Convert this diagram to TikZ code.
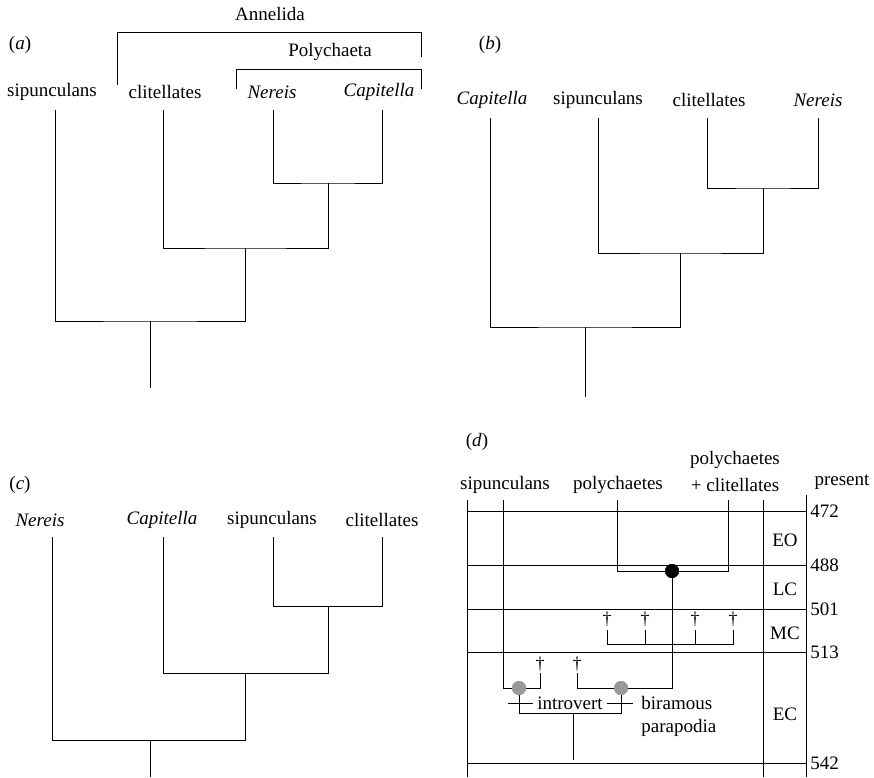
\documentclass[tikz,border=0pt]{standalone}
\usepackage{fontspec}
\setmainfont{Liberation Serif}
\begin{document}
\begin{tikzpicture}[x=1pt,y=-1pt,line width=0.9pt,
  lbl/.style={inner sep=0pt,font=\fontsize{19}{22}\selectfont},
  dag/.style={inner sep=0pt,font=\fontsize{18}{20}\selectfont},
  tick/.style={inner sep=0pt,anchor=west,font=\fontsize{19}{22}\selectfont},
  graydot/.style={circle,fill=black!40,inner sep=0pt,minimum size=14pt},
  blackdot/.style={circle,fill=black,inner sep=0pt,minimum size=14pt}]
\useasboundingbox (0,0) rectangle (874,777);

% ---------------- (a)
\node[lbl] (alab) at (20,45) {(\textit{a})};
\node[lbl] (annel) at (270,14) {Annelida};
\node[lbl] (polyc) at (330,52) {Polychaeta};
\node[lbl] (a1) at (52,92) {sipunculans};
\node[lbl] (a2) at (165,92) {clitellates};
\node[lbl] (a3) at (272,92) {\textit{Nereis}};
\node[lbl] (a4) at (379,92) {\textit{Capitella}};
\coordinate (an1) at (117,85); \coordinate (an2) at (117,32);
\coordinate (an3) at (421,32); \coordinate (an4) at (421,57);
\draw (an1) -- (an2) -- (an3) -- (an4);
\coordinate (pb1) at (236,89); \coordinate (pb2) at (236,69);
\coordinate (pb3) at (421,69); \coordinate (pb4) at (421,89);
\draw (pb1) -- (pb2) -- (pb3) -- (pb4);
\coordinate (at1) at (55,110); \coordinate (at2) at (163,110);
\coordinate (at3) at (273,110); \coordinate (at4) at (382,110);
\coordinate (an1n) at (328,183); \coordinate (an2n) at (245,248);
\coordinate (an3n) at (150,321); \coordinate (aroot) at (150,388);
\draw (at3) |- (an1n) -| (at4);
\draw (at2) |- (an2n) -| (an1n);
\draw (at1) |- (an3n) -| (an2n);
\draw (an3n) -- (aroot);

% ---------------- (b)
\node[lbl] (blab) at (490,45) {(\textit{b})};
\node[lbl] (b1) at (492,100) {\textit{Capitella}};
\node[lbl] (b2) at (598,100) {sipunculans};
\node[lbl] (b3) at (709,100) {clitellates};
\node[lbl] (b4) at (818,100) {\textit{Nereis}};
\coordinate (bt1) at (490,118); \coordinate (bt2) at (598,118);
\coordinate (bt3) at (707,118); \coordinate (bt4) at (818,118);
\coordinate (bn1) at (763,188); \coordinate (bn2) at (680,253);
\coordinate (bn3) at (585,327); \coordinate (broot) at (585,397);
\draw (bt3) |- (bn1) -| (bt4);
\draw (bt2) |- (bn2) -| (bn1);
\draw (bt1) |- (bn3) -| (bn2);
\draw (bn3) -- (broot);

% ---------------- (c)
\node[lbl] (clab) at (20,485) {(\textit{c})};
\node[lbl] (c1) at (40,520) {\textit{Nereis}};
\node[lbl] (c2) at (162,520) {\textit{Capitella}};
\node[lbl] (c3) at (272,520) {sipunculans};
\node[lbl] (c4) at (382,520) {clitellates};
\coordinate (ct1) at (52,537); \coordinate (ct2) at (163,537);
\coordinate (ct3) at (273,537); \coordinate (ct4) at (382,537);
\coordinate (cn1) at (328,606); \coordinate (cn2) at (245,673);
\coordinate (cn3) at (150,740); \coordinate (croot) at (150,777);
\draw (ct3) |- (cn1) -| (ct4);
\draw (ct2) |- (cn2) -| (cn1);
\draw (ct1) |- (cn3) -| (cn2);
\draw (cn3) -- (croot);

% ---------------- (d)
\node[lbl] (dlab) at (477,442) {(\textit{d})};
\node[lbl] (d1) at (505,485) {sipunculans};
\node[lbl] (d2) at (618,485) {polychaetes};
\node[lbl] (d3a) at (735,460) {polychaetes};
\node[lbl] (d3b) at (735,485) {+ clitellates};
\node[lbl] (pres) at (842,482) {present};
% frame
\coordinate (fl1) at (467,500); \coordinate (fl2) at (467,777);
\coordinate (fr1) at (763,500); \coordinate (fr2) at (763,777);
\coordinate (fa1) at (806,495); \coordinate (fa2) at (806,777);
\draw (fl1) -- (fl2); \draw (fr1) -- (fr2); \draw (fa1) -- (fa2);
\foreach \y/\t [count=\i] in {511/472,565/488,609/501,652/513,763/542}{
  \coordinate (hl\i) at (467,\y); \coordinate (hr\i) at (806,\y);
  \draw (hl\i) -- (hr\i);
  \node[tick] (tk\i) at (810,\y) {\t};
}
\node[lbl] (eo) at (785,540) {EO};
\node[lbl] (lc) at (785,589) {LC};
\node[lbl] (mc) at (785,633) {MC};
\node[lbl] (ec) at (785,714) {EC};
% polychaetes + clitellates
\coordinate (p1) at (617,500); \coordinate (p2) at (728,500);
\node[blackdot] (bd) at (672,571) {};
\draw (p1) |- (bd.center) -| (p2);
% MC bracket
\coordinate (m1) at (607,630); \coordinate (m2) at (645,630);
\coordinate (m3) at (695,630); \coordinate (m4) at (733,630);
\coordinate (mb) at (670,644);
\draw (m1) |- (mb) -| (m4);
\draw (m2) -- (m2 |- mb); \draw (m3) -- (m3 |- mb);
\foreach \i in {1,2,3,4}{ \node[dag] (md\i) at ([yshift=11]m\i) {\textdagger}; }
% early cambrian
\coordinate (s1) at (503,500);
\node[graydot] (g1) at (519,688) {};
\node[graydot] (g2) at (621,688) {};
\coordinate (e1) at (540,673); \coordinate (e2) at (577,673);
\node[dag] (ed1) at ([yshift=9]e1) {\textdagger};
\node[dag] (ed2) at ([yshift=9]e2) {\textdagger};
\coordinate (r1) at (573,713); \coordinate (r2) at (573,760);
\draw (s1) |- (g1.center) -| (e1);
\draw (e2) |- (g2.center) -| (bd.center);
\draw (g1.center) |- (r1) -| (g2.center);
\draw (r1) -- (r2);
\node[graydot] at (g1) {}; \node[graydot] at (g2) {};
\node[blackdot] at (bd) {};
% character labels
\node[lbl] (intro) at (570,703) {introvert};
\coordinate (ti1) at (508,703); \coordinate (ti2) at (533,703);
\coordinate (ti3) at (607,703); \coordinate (ti4) at (633,703);
\draw (ti1) -- (ti2); \draw (ti3) -- (ti4);
\node[lbl,anchor=west] (bira) at (641,703) {biramous};
\node[lbl,anchor=west] (para) at (641,728) {parapodia};
\end{tikzpicture}
\end{document}
